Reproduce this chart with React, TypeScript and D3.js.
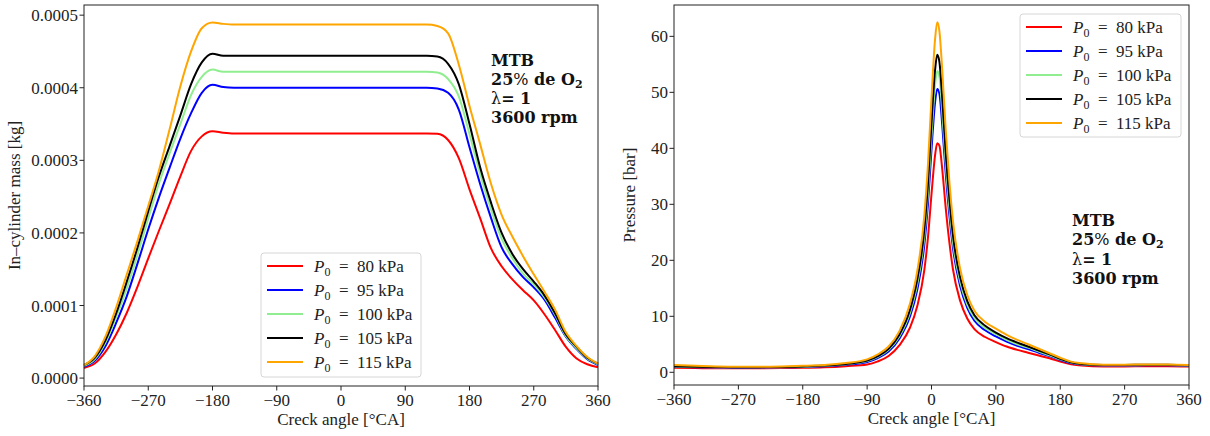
import React from "react";
import * as d3 from "d3";

// crank angle ticks shared by both panels
const angleTicks = [-360, -270, -180, -90, 0, 90, 180, 270, 360];
const massTicks = [0, 1, 2, 3, 4, 5]; // in 1e-4 kg
const pressureTicks = [0, 10, 20, 30, 40, 50, 60];

const seriesLabels = ["80", "95", "100", "105", "115"];
const seriesColors = ["red", "blue", "#90ee90", "black", "orange"];

// in-cylinder mass (1e-4 kg) vs crank angle
const massAngles = [-360, -345, -330, -315, -300, -285, -270, -255, -240, -225, -210, -195, -180, -165, -150, 0, 120, 135, 150, 165, 180, 195, 210, 225, 240, 255, 270, 285, 300, 315, 330, 345, 360];
const mass80 = [0.14, 0.2, 0.36, 0.6, 0.9, 1.26, 1.65, 2.03, 2.4, 2.78, 3.13, 3.33, 3.4, 3.38, 3.37, 3.37, 3.37, 3.365, 3.28, 3.03, 2.6, 2.2, 1.79, 1.54, 1.36, 1.21, 1.07, 0.88, 0.66, 0.43, 0.27, 0.19, 0.15];
const mass95 = [0.16, 0.24, 0.44, 0.76, 1.13, 1.58, 2.05, 2.49, 2.9, 3.3, 3.65, 3.93, 4.04, 4.01, 4.0, 4.0, 4.0, 3.99, 3.93, 3.7, 3.18, 2.67, 2.21, 1.8, 1.57, 1.39, 1.25, 1.08, 0.83, 0.57, 0.4, 0.26, 0.18];
const mass100 = [0.17, 0.26, 0.49, 0.84, 1.24, 1.7, 2.2, 2.68, 3.1, 3.5, 3.9, 4.15, 4.25, 4.22, 4.22, 4.22, 4.22, 4.21, 4.12, 3.88, 3.36, 2.81, 2.33, 1.92, 1.65, 1.44, 1.29, 1.11, 0.87, 0.58, 0.41, 0.27, 0.19];
const mass105 = [0.18, 0.28, 0.52, 0.89, 1.33, 1.8, 2.3, 2.78, 3.2, 3.62, 4.05, 4.35, 4.47, 4.44, 4.44, 4.44, 4.44, 4.43, 4.33, 4.05, 3.5, 2.9, 2.42, 2.0, 1.71, 1.5, 1.33, 1.14, 0.89, 0.6, 0.43, 0.28, 0.2];
const mass115 = [0.18, 0.3, 0.57, 0.97, 1.43, 1.89, 2.37, 2.86, 3.43, 4.02, 4.5, 4.82, 4.9, 4.88, 4.87, 4.87, 4.87, 4.85, 4.75, 4.32, 3.75, 3.22, 2.68, 2.25, 1.95, 1.68, 1.43, 1.19, 0.94, 0.63, 0.44, 0.29, 0.2];

// cylinder pressure (bar) vs crank angle
const pressureAngles = [-360, -330, -300, -270, -240, -210, -180, -150, -120, -90, -75, -60, -45, -30, -20, -10, -5, 0, 5, 8, 11, 15, 20, 25, 30, 40, 50, 60, 75, 90, 105, 120, 135, 150, 165, 180, 195, 210, 240, 270, 300, 330, 360];
const pressure80 = [0.8, 0.75, 0.7, 0.7, 0.72, 0.75, 0.8, 0.9, 1.1, 1.4, 1.95, 2.9, 4.8, 8.0, 11.8, 18.3, 24.0, 31.8, 38.8, 40.9, 40.5, 36.3, 29.2, 23.2, 18.4, 12.8, 9.6, 7.7, 6.3, 5.4, 4.6, 4.0, 3.5, 3.0, 2.5, 1.9, 1.45, 1.2, 1.05, 1.05, 1.1, 1.1, 1.05];
const pressure95 = [1.0, 0.9, 0.85, 0.83, 0.85, 0.88, 0.95, 1.1, 1.35, 1.85, 2.55, 3.7, 6.0, 10.0, 14.7, 22.8, 30.0, 39.8, 48.2, 50.6, 49.8, 44.2, 35.3, 28.0, 22.2, 15.4, 11.5, 9.2, 7.5, 6.4, 5.5, 4.75, 4.15, 3.5, 2.9, 2.2, 1.65, 1.4, 1.2, 1.2, 1.25, 1.25, 1.15];
const pressure100 = [1.05, 0.95, 0.9, 0.88, 0.9, 0.92, 1.0, 1.15, 1.45, 2.0, 2.75, 4.0, 6.4, 10.7, 15.7, 24.3, 31.9, 42.3, 51.3, 53.8, 52.8, 46.6, 37.1, 29.5, 23.3, 16.2, 12.1, 9.7, 7.9, 6.8, 5.8, 5.0, 4.4, 3.7, 3.05, 2.3, 1.75, 1.45, 1.25, 1.25, 1.3, 1.3, 1.2];
const pressure105 = [1.1, 1.0, 0.95, 0.9, 0.92, 0.95, 1.05, 1.2, 1.5, 2.1, 2.9, 4.2, 6.7, 11.2, 16.5, 25.5, 33.5, 44.5, 54.0, 56.7, 55.5, 49.0, 39.0, 31.0, 24.5, 17.0, 12.7, 10.2, 8.3, 7.1, 6.1, 5.3, 4.6, 3.9, 3.2, 2.4, 1.8, 1.5, 1.3, 1.3, 1.35, 1.35, 1.25];
const pressure115 = [1.3, 1.15, 1.05, 1.0, 1.0, 1.05, 1.15, 1.3, 1.65, 2.3, 3.2, 4.6, 7.3, 12.3, 18.0, 28.0, 37.0, 49.0, 59.5, 62.5, 61.0, 54.0, 43.0, 34.0, 27.0, 18.5, 13.8, 11.0, 9.0, 7.8, 6.7, 5.8, 5.0, 4.2, 3.4, 2.6, 1.9, 1.6, 1.35, 1.35, 1.4, 1.4, 1.3];

const massSeries = [mass80, mass95, mass100, mass105, mass115];
const pressureSeries = [pressure80, pressure95, pressure100, pressure105, pressure115];

const FONT = "'Liberation Serif', 'DejaVu Serif', serif";
const NOTE_FONT = "'DejaVu Serif', serif";
const W = 1210;
const H = 436;

const fmtAngle = (t: number) => (t < 0 ? "\u2212" + Math.abs(t) : String(t));

type Box = { x0: number; x1: number; y0: number; y1: number };

function Legend({ x, y, w, h }: { x: number; y: number; w: number; h: number }) {
  return (
    <g>
      <rect x={x} y={y} width={w} height={h} rx={3} fill="white" fillOpacity={0.8} stroke="#d6d6d6" />
      {seriesLabels.map((lab, i) => {
        const cy = y + 13 + i * 24;
        return (
          <g key={lab}>
            <line x1={x + 6} x2={x + 42} y1={cy} y2={cy} stroke={seriesColors[i]} strokeWidth={2} />
            <text x={x + 53} y={cy + 6} fontSize={17} fontFamily={FONT} fill="#222">
              <tspan fontStyle="italic">P</tspan>
              <tspan fontSize={12} dy={4}>0</tspan>
              <tspan dy={-4}>{"\u2002=\u2002" + lab + " kPa"}</tspan>
            </text>
          </g>
        );
      })}
    </g>
  );
}

function Note({ x, y }: { x: number; y: number }) {
  const lh = 19.3;
  return (
    <g fontSize={16} fontFamily={NOTE_FONT} fontWeight="bold" fill="#111">
      <text x={x} y={y}>MTB</text>
      <text x={x} y={y + lh}>
        25<tspan fontWeight="normal">%</tspan> de O<tspan fontSize={11} dy={3}>2</tspan>
      </text>
      <text x={x} y={y + 2 * lh}>
        <tspan fontWeight="normal">λ</tspan>= 1
      </text>
      <text x={x} y={y + 3 * lh}>3600 rpm</text>
    </g>
  );
}

function Panel({
  box, angles, series, yDomain, yTicks, yFmt, yLabel, yLabelX,
}: {
  box: Box; angles: number[]; series: number[][]; yDomain: [number, number];
  yTicks: number[]; yFmt: (t: number) => string; yLabel: string; yLabelX: number;
}) {
  const x = d3.scaleLinear().domain([-360, 360]).range([box.x0, box.x1]);
  const y = d3.scaleLinear().domain(yDomain).range([box.y1, box.y0]);
  const line = d3
    .line<number>()
    .x((_, i) => x(angles[i]))
    .y((d) => y(d))
    .curve(d3.curveMonotoneX);
  const cx = (box.x0 + box.x1) / 2;
  const cy = (box.y0 + box.y1) / 2;
  return (
    <g fontFamily={FONT}>
      {series.map((s, i) => (
        <path key={i} d={line(s) || ""} fill="none" stroke={seriesColors[i]} strokeWidth={2} />
      ))}
      <rect x={box.x0} y={box.y0} width={box.x1 - box.x0} height={box.y1 - box.y0} fill="none" stroke="#222" strokeWidth={1} />
      {angleTicks.map((t) => (
        <g key={t}>
          <line x1={x(t)} x2={x(t)} y1={box.y1} y2={box.y1 + 4.5} stroke="#222" />
          <text x={x(t)} y={box.y1 + 19.5} fontSize={17} textAnchor="middle" fill="#222">{fmtAngle(t)}</text>
        </g>
      ))}
      {yTicks.map((t) => (
        <g key={t}>
          <line x1={box.x0 - 4.5} x2={box.x0} y1={y(t)} y2={y(t)} stroke="#222" />
          <text x={box.x0 - 6} y={y(t) + 6} fontSize={17} textAnchor="end" fill="#222">{yFmt(t)}</text>
        </g>
      ))}
      <text x={cx} y={box.y1 + 39} fontSize={17} textAnchor="middle" fill="#222">Creck angle [°CA]</text>
      <text transform={`translate(${yLabelX},${cy}) rotate(-90)`} fontSize={17} textAnchor="middle" fill="#222">{yLabel}</text>
    </g>
  );
}

export default function App() {
  const left: Box = { x0: 84, x1: 598, y0: 5, y1: 386 };
  const right: Box = { x0: 674, x1: 1189, y0: 5, y1: 385 };
  return (
    <svg width={W} height={H} style={{ position: "absolute", left: 0, top: 0, background: "white" }}>
      <rect width={W} height={H} fill="white" />
      <Panel
        box={left}
        angles={massAngles}
        series={massSeries}
        yDomain={[-0.109, 5.14]}
        yTicks={massTicks}
        yFmt={(t) => (t * 1e-4).toFixed(4)}
        yLabel="In–cylinder mass [kg]"
        yLabelX={20}
      />
      <Legend x={261} y={253} w={160} h={124} />
      <Note x={491} y={65.5} />
      <Panel
        box={right}
        angles={pressureAngles}
        series={pressureSeries}
        yDomain={[-2.27, 65.6]}
        yTicks={pressureTicks}
        yFmt={(t) => String(t)}
        yLabel="Pressure [bar]"
        yLabelX={635}
      />
      <Legend x={1020} y={14} w={161} h={123} />
      <Note x={1072} y={226} />
    </svg>
  );
}
